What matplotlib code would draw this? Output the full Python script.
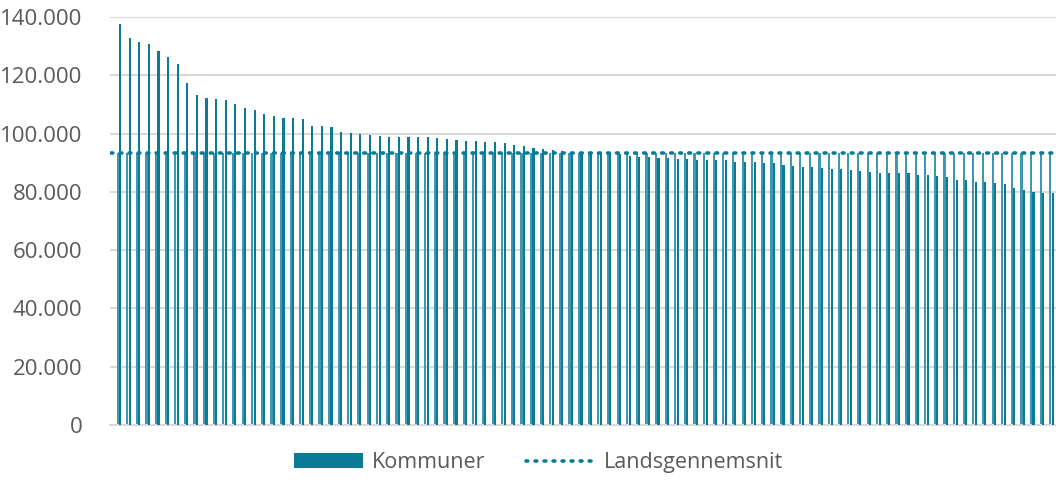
import matplotlib.pyplot as plt
import numpy as np

plt.rcParams['font.family'] = ['Open Sans', 'DejaVu Sans']

# indkomst pr. kommune, sorteret faldende
kommuner = [
    137600, 132700, 131300, 130600, 128200, 126300, 123800, 117300, 113300, 112100,
    111800, 111400, 110300, 108700, 108100, 106600, 106000, 105300, 105200, 104900,
    102600, 102500, 102300, 100500, 100200, 99900, 99400, 99100, 98900, 98800,
    98800, 98800, 98700, 98500, 98000, 97800, 97500, 97400, 97200, 97100,
    96800, 96200, 95700, 95100, 94600, 94400, 94100, 93800, 93600, 93500,
    93500, 93200, 92900, 92400, 92100, 91900, 91500, 91500, 91300, 91200,
    91000, 91000, 90900, 90900, 90300, 90200, 90200, 90000, 89800, 89100,
    89000, 88600, 88600, 88300, 88000, 88000, 87500, 87000, 86800, 86400,
    86400, 86300, 86300, 85800, 85800, 85400, 85100, 84100, 84000, 83500,
    83300, 83000, 82600, 81300, 80700, 79800, 79700, 79700,
]
landsgennemsnit = 93300

n = len(kommuner)
x = np.arange(n)
gns = [landsgennemsnit] * n

fig = plt.figure(figsize=(10.56, 4.9), dpi=100)
ax = fig.add_axes([110 / 1056, 65 / 490, 946 / 1056, 408 / 490])

mørk = '#0a7b96'
lys = '#3f98b0'

ax.bar(x - 0.25, gns, width=0.22, color=lys, zorder=2)
h1 = ax.bar(x, kommuner, width=0.22, color=mørk, label='Kommuner', zorder=3)
lx = np.arange(-0.9, n + 0.3, 0.5)
h2, = ax.plot(lx, [landsgennemsnit] * len(lx),
              linestyle=(0, (0.5, 2.0)), dash_capstyle='round', color=mørk, lw=2.6,
              label='Landsgennemsnit', zorder=4)

ax.set_xlim(-1.04, n - 1 + 0.34)
ax.set_ylim(0, 140000)
ax.set_yticks(range(0, 140001, 20000))
ax.set_yticklabels([f'{v:,}'.replace(',', '.') for v in range(0, 140001, 20000)])
ax.set_xticks([])
ax.tick_params(axis='y', length=0, pad=20, labelsize=16, labelcolor='#595959')
ax.grid(axis='y', color='#d9d9d9', lw=1.5, zorder=0)
for s in ['top', 'right', 'left']:
    ax.spines[s].set_visible(False)
ax.spines['bottom'].set_color('#d9d9d9')
ax.spines['bottom'].set_linewidth(1.5)

leg = fig.legend(handles=[h1, h2], loc='lower center', bbox_to_anchor=(0.51, -0.005), ncol=2,
                 frameon=False, fontsize=15.5, handlelength=3.2, handleheight=0.7,
                 columnspacing=1.9, handletextpad=0.4)
for t in leg.get_texts():
    t.set_color('#595959')

fig.savefig('out.png', dpi=100)
